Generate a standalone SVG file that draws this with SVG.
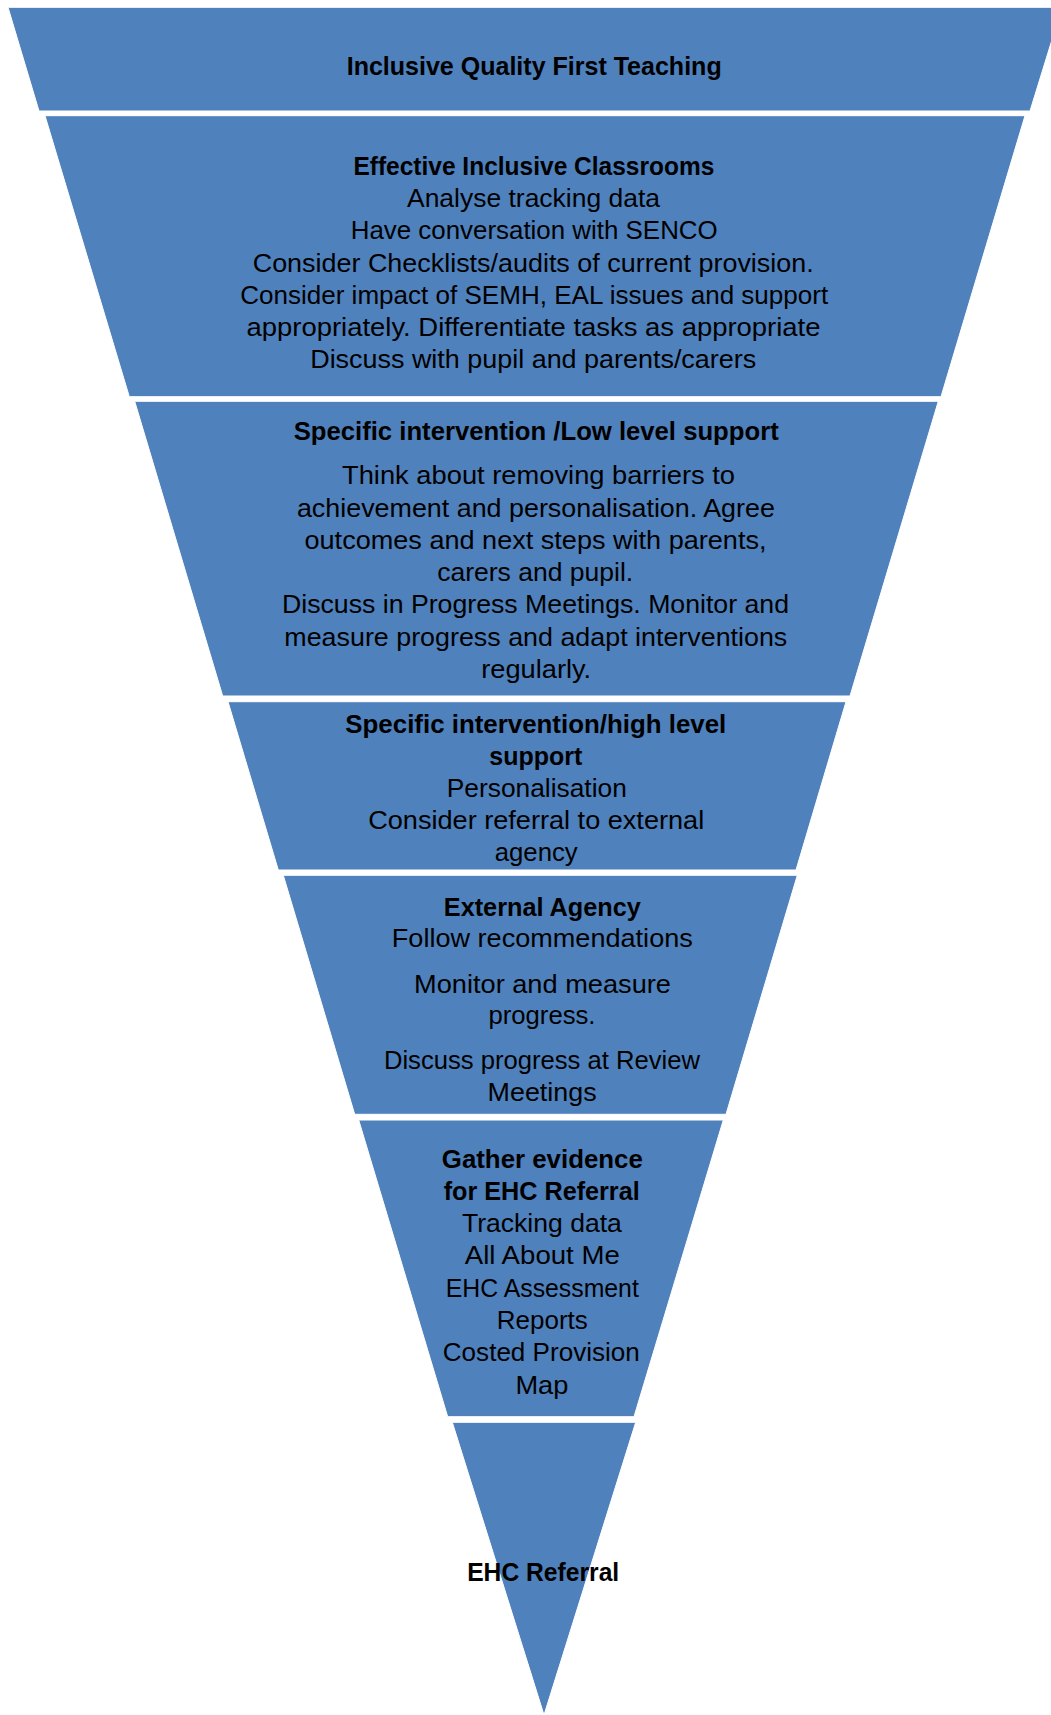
<svg xmlns="http://www.w3.org/2000/svg" width="1051" height="1715" viewBox="0 0 1051 1715">
<style>
.band{fill:#4F81BD;stroke:#ffffff;stroke-width:1}
text{font-family:"Liberation Sans",Arial,sans-serif;font-size:26px;fill:#000000;text-anchor:middle}
.b{font-weight:bold}
</style>
<rect x="0" y="0" width="1051" height="1715" fill="#ffffff"/>
<g id="connectors"/>
<g id="band1">
<polygon class="band" points="8,7.3 1062,7.3 1030,111 39,111"/>
<text class="b" x="534.2" y="74.5" textLength="375" lengthAdjust="spacingAndGlyphs">Inclusive Quality First Teaching</text>
</g>
<g id="band2">
<polygon class="band" points="45,115.7 1025,115.7 941,396.7 129.3,396.7"/>
<text class="b" x="533.9" y="175" textLength="361" lengthAdjust="spacingAndGlyphs">Effective Inclusive Classrooms</text>
<text x="533.5" y="207" textLength="253" lengthAdjust="spacingAndGlyphs">Analyse tracking data</text>
<text x="534.2" y="239.3" textLength="367" lengthAdjust="spacingAndGlyphs">Have conversation with SENCO</text>
<text x="533.2" y="271.6" textLength="561" lengthAdjust="spacingAndGlyphs">Consider Checklists/audits of current provision.</text>
<text x="534.2" y="303.9" textLength="588" lengthAdjust="spacingAndGlyphs">Consider impact of SEMH, EAL issues and support</text>
<text x="533.5" y="336" textLength="574" lengthAdjust="spacingAndGlyphs">appropriately. Differentiate tasks as appropriate</text>
<text x="533.2" y="368" textLength="446" lengthAdjust="spacingAndGlyphs">Discuss with pupil and parents/carers</text>
</g>
<g id="band3">
<polygon class="band" points="134.7,401.3 938.3,401.3 850,696 222.7,696"/>
<text class="b" x="536.2" y="440" textLength="485" lengthAdjust="spacingAndGlyphs">Specific intervention /Low level support</text>
<text x="538.5" y="484.3" textLength="393" lengthAdjust="spacingAndGlyphs">Think about removing barriers to</text>
<text x="535.9" y="516.6" textLength="478" lengthAdjust="spacingAndGlyphs">achievement and personalisation. Agree</text>
<text x="535.5" y="548.8" textLength="462" lengthAdjust="spacingAndGlyphs">outcomes and next steps with parents,</text>
<text x="535.2" y="581" textLength="196" lengthAdjust="spacingAndGlyphs">carers and pupil.</text>
<text x="535.5" y="613.3" textLength="507" lengthAdjust="spacingAndGlyphs">Discuss in Progress Meetings. Monitor and</text>
<text x="535.8" y="645.6" textLength="503" lengthAdjust="spacingAndGlyphs">measure progress and adapt interventions</text>
<text x="536.2" y="677.9" textLength="110" lengthAdjust="spacingAndGlyphs">regularly.</text>
</g>
<g id="band4">
<polygon class="band" points="228,701.7 846,701.7 796,870 278.3,870"/>
<text class="b" x="535.8" y="732.5" textLength="381" lengthAdjust="spacingAndGlyphs">Specific intervention/high level</text>
<text class="b" x="535.8" y="764.6" textLength="93" lengthAdjust="spacingAndGlyphs">support</text>
<text x="536.8" y="796.8" textLength="180" lengthAdjust="spacingAndGlyphs">Personalisation</text>
<text x="536.2" y="829" textLength="336" lengthAdjust="spacingAndGlyphs">Consider referral to external</text>
<text x="536.2" y="861.2" textLength="83" lengthAdjust="spacingAndGlyphs">agency</text>
</g>
<g id="band5">
<polygon class="band" points="283.3,875.3 797.3,875.3 726,1114.3 354.7,1114.3"/>
<text class="b" x="542.3" y="916" textLength="197" lengthAdjust="spacingAndGlyphs">External Agency</text>
<text x="542.3" y="947.2" textLength="301" lengthAdjust="spacingAndGlyphs">Follow recommendations</text>
<text x="542.5" y="992.6" textLength="257" lengthAdjust="spacingAndGlyphs">Monitor and measure</text>
<text x="542" y="1023.6" textLength="107" lengthAdjust="spacingAndGlyphs">progress.</text>
<text x="541.9" y="1069.2" textLength="316" lengthAdjust="spacingAndGlyphs">Discuss progress at Review</text>
<text x="542.1" y="1101.4" textLength="109" lengthAdjust="spacingAndGlyphs">Meetings</text>
</g>
<g id="band6">
<polygon class="band" points="358.7,1120 723.3,1120 634,1416.7 447.7,1416.7"/>
<text class="b" x="542.3" y="1167.5" textLength="201" lengthAdjust="spacingAndGlyphs">Gather evidence</text>
<text class="b" x="541.7" y="1199.5" textLength="196" lengthAdjust="spacingAndGlyphs">for EHC Referral</text>
<text x="541.9" y="1231.6" textLength="160" lengthAdjust="spacingAndGlyphs">Tracking data</text>
<text x="542.3" y="1264" textLength="155" lengthAdjust="spacingAndGlyphs">All About Me</text>
<text x="542.3" y="1296.5" textLength="193" lengthAdjust="spacingAndGlyphs">EHC Assessment</text>
<text x="542.3" y="1329" textLength="91" lengthAdjust="spacingAndGlyphs">Reports</text>
<text x="541.3" y="1361.3" textLength="197" lengthAdjust="spacingAndGlyphs">Costed Provision</text>
<text x="541.9" y="1393.6" textLength="53" lengthAdjust="spacingAndGlyphs">Map</text>
</g>
<g id="band7">
<polygon class="band" points="452.3,1422.3 635.7,1422.3 544,1715"/>
<text class="b" x="543.2" y="1581" textLength="152" lengthAdjust="spacingAndGlyphs">EHC Referral</text>
</g>
</svg>
